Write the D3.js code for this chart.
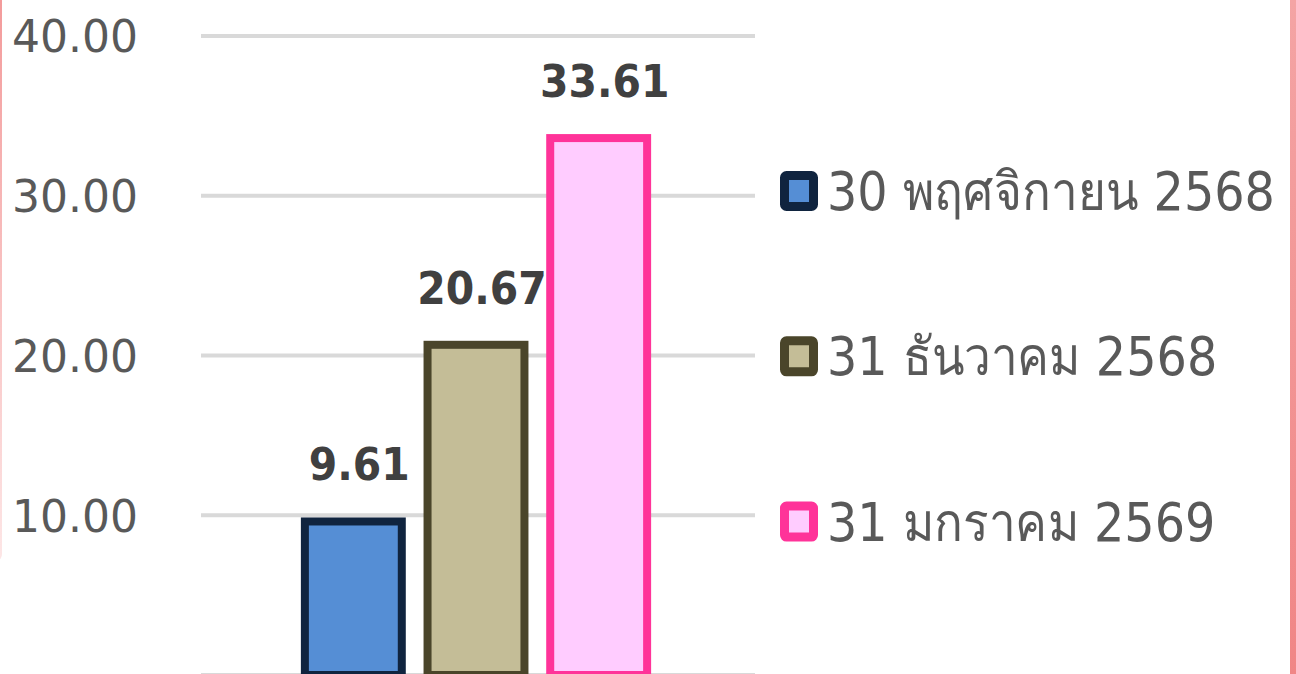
<!DOCTYPE html>
<html>
<head>
<meta charset="utf-8">
<script src="https://cdn.jsdelivr.net/npm/d3@7"></script>
<style>
  html, body { margin: 0; padding: 0; background: #fff; }
  svg { display: block; }
</style>
</head>
<body>
<svg id="chart" width="1296" height="674"></svg>
<script>
// chart data
var series = ['30 พฤศจิกายน 2568', '31 ธันวาคม 2568', '31 มกราคม 2569'];
var values = [9.61, 20.67, 33.61];
var yTicks = [0, 10, 20, 30, 40];
var fills = ['#558ed5', '#c4bd97', '#ffccff'];
var strokes = ['#10243f', '#4a452a', '#ff3399'];

var svg = d3.select('#chart');
var W = 1296, H = 674;

// frame edges (pink border of the original card)
var defs = svg.append('defs');
var gl = defs.append('linearGradient').attr('id', 'leftEdge')
    .attr('x1', 0).attr('y1', 0).attr('x2', 0).attr('y2', 1);
gl.append('stop').attr('offset', '0%').attr('stop-color', '#f39a9a');
gl.append('stop').attr('offset', '100%').attr('stop-color', '#fde6e6');
var gr = defs.append('linearGradient').attr('id', 'rightEdge')
    .attr('x1', 0).attr('y1', 0).attr('x2', 0).attr('y2', 1);
gr.append('stop').attr('offset', '0%').attr('stop-color', '#f4a4a4');
gr.append('stop').attr('offset', '100%').attr('stop-color', '#f08686');

svg.append('rect').attr('x', -6).attr('y', -10).attr('width', 8).attr('height', 570)
    .attr('rx', 6).style('fill', 'url(#leftEdge)');
svg.append('rect').attr('x', 1290).attr('y', 0).attr('width', 6).attr('height', H)
    .style('fill', 'url(#rightEdge)');

var yScale = d3.scaleLinear()
    .domain([0, 40])
    .range([675, 36]);

var xScale = d3.scaleBand()
    .domain(series)
    .range([292, 660])
    .paddingInner(0.21)
    .paddingOuter(0.105);

// gridlines
svg.append('g').selectAll('line.grid')
    .data(yTicks)
    .enter().append('line')
    .attr('class', 'grid')
    .attr('x1', 201).attr('x2', 755)
    .attr('y1', d => yScale(d)).attr('y2', d => yScale(d))
    .style('stroke', '#d9d9d9')
    .style('stroke-width', 4);

// y axis labels
var yAxis = d3.axisLeft(yScale)
    .tickValues(yTicks.filter(d => d > 0))
    .tickFormat(d3.format('.2f'))
    .tickSize(0)
    .tickPadding(0);

var yg = svg.append('g')
    .attr('transform', 'translate(138,0)')
    .call(yAxis);
yg.select('.domain').remove();
yg.selectAll('text')
    .attr('dy', '0.36em')
    .style('font-family', 'DejaVu Sans, Verdana, sans-serif')
    .style('font-size', '44px')
    .style('fill', '#595959');

// bars
svg.append('g').selectAll('rect.bar')
    .data(values)
    .enter().append('rect')
    .attr('class', 'bar')
    .attr('x', (d, i) => xScale(series[i]))
    .attr('y', d => yScale(d))
    .attr('width', xScale.bandwidth())
    .attr('height', d => yScale(0) - yScale(d))
    .style('fill', (d, i) => fills[i])
    .style('stroke', (d, i) => strokes[i])
    .style('stroke-width', 8);

// value labels
svg.append('g').selectAll('text.value')
    .data(values)
    .enter().append('text')
    .attr('class', 'value')
    .attr('transform', (d, i) => 'translate(' + (xScale(series[i]) + xScale.bandwidth() / 2 + 6) + ',' + (yScale(d) - 41) + ') scale(0.91,1)')
    .attr('text-anchor', 'middle')
    .style('font-family', 'DejaVu Sans, Verdana, sans-serif')
    .style('font-weight', 'bold')
    .style('font-size', '45px')
    .style('fill', '#404040')
    .text(d => d3.format('.2f')(d));

// legend
var legend = svg.append('g').selectAll('g.legend')
    .data(series)
    .enter().append('g')
    .attr('class', 'legend')
    .attr('transform', (d, i) => 'translate(780,' + (191 + i * 165.3) + ')');

legend.append('rect')
    .attr('x', 4.5).attr('y', -15.5)
    .attr('width', 29).attr('height', 31)
    .attr('rx', 2)
    .style('fill', (d, i) => fills[i])
    .style('stroke', (d, i) => strokes[i])
    .style('stroke-width', 9);

legend.append('text')
    .attr('transform', 'translate(47,0) scale(0.9,1)')
    .attr('dy', '0.36em')
    .style('font-family', 'DejaVu Sans, Tahoma, sans-serif')
    .style('font-size', '53px')
    .style('fill', '#595959')
    .text(d => d);
</script>
</body>
</html>
